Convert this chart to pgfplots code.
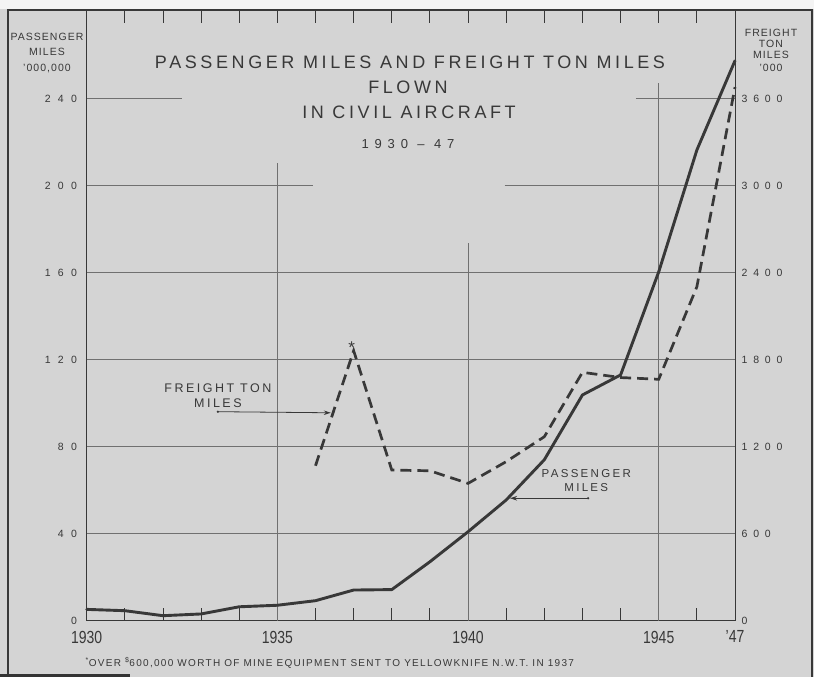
\documentclass[border=0pt]{standalone}
\usepackage{fontspec}
\usepackage{graphicx}
\usepackage{pgfplots}
\pgfplotsset{compat=1.18}
\usetikzlibrary{arrows.meta}
\setmainfont{Liberation Sans}
\newfontfamily\lett[LetterSpace=20]{Liberation Sans}
\newfontfamily\letf[LetterSpace=13]{Liberation Sans}
\newfontfamily\letts[LetterSpace=10]{Liberation Sans}
\newfontfamily\tickL[LetterSpace=70]{Liberation Sans}
\newfontfamily\tickR[LetterSpace=55]{Liberation Sans}
\newfontfamily\datef[LetterSpace=45]{Liberation Sans}
\definecolor{bg}{HTML}{D4D4D4}
\definecolor{ink}{HTML}{383838}
\definecolor{gridc}{HTML}{707070}

\pgfplotstableread{
year pass
1930 5.2
1931 4.6
1932 2.3
1933 3.1
1934 6.4
1935 7.1
1936 9.2
1937 14.1
1938 14.3
1939 27.1
1940 40.9
1941 55.5
1942 74.0
1943 103.8
1944 113.0
1945 160.4
1946 216.4
1947 257.5
}\passdata

\pgfplotstableread{
year freight
1936 1069
1937 1862
1938 1039
1939 1034
1940 947
1941 1097
1942 1269
1943 1713
1944 1677
1945 1665
1946 2303
1947 3680
}\freightdata

\begin{document}
\begin{tikzpicture}[x=1pt,y=1pt]
\fill[bg] (0,0) rectangle (814,677);
\fill[white!75!bg] (0,668) rectangle (814,677);
\useasboundingbox (0,0) rectangle (814,677);

% titles
\node[text=ink, font=\lett\fontsize{18}{20}\selectfont] at (410,{677-62}) {PASSENGER MILES AND FREIGHT TON MILES};
\node[text=ink, font=\lett\fontsize{18}{20}\selectfont] at (408,{677-87}) {FLOWN};
\node[text=ink, font=\lett\fontsize{18}{20}\selectfont] at (409,{677-112}) {IN CIVIL AIRCRAFT};
\node[text=ink, font=\datef\fontsize{13}{15}\selectfont] at (408,{677-144}) {1930 \textendash{} 47};

% left axis title
\node[text=ink, font=\letts\fontsize{10.5}{12}\selectfont] at (47,{677-37}) {PASSENGER};
\node[text=ink, font=\letts\fontsize{10.5}{12}\selectfont] at (47,{677-52}) {MILES};
\node[text=ink, font=\letts\fontsize{10.5}{12}\selectfont] at (47,{677-69}) {\textquoteright000,000};
% right axis title
\node[text=ink, font=\letts\fontsize{10.5}{12}\selectfont] at (771,{677-33}) {FREIGHT};
\node[text=ink, font=\letts\fontsize{10.5}{12}\selectfont] at (771,{677-44}) {TON};
\node[text=ink, font=\letts\fontsize{10.5}{12}\selectfont] at (771,{677-55}) {MILES};
\node[text=ink, font=\letts\fontsize{10.5}{12}\selectfont] at (771,{677-68}) {\textquoteright000};

% footnote
\node[text=ink, anchor=west, font=\letf\fontsize{10}{12}\selectfont] at (82,{677-663}) {\textsuperscript{*}OVER \textsuperscript{\$}600,000 WORTH OF MINE EQUIPMENT SENT TO YELLOWKNIFE N.W.T. IN 1937};

\begin{axis}[
  at={(86.7pt,56.3pt)}, anchor=south west,
  scale only axis, width=648.3pt, height=610.7pt,
  xmin=1930, xmax=1947, ymin=0, ymax=280.8,
  clip=false,
  axis line style={draw=ink, line width=1pt},
  xtick={1930,1935,1940,1945,1947},
  xticklabels={\scalebox{0.8}[1]{1930},\scalebox{0.8}[1]{1935},\scalebox{0.8}[1]{1940},\scalebox{0.8}[1]{1945},\scalebox{0.8}[1]{\textquoteright47}},
  minor xtick={1930,...,1947},
  tick align=inside,
  major tick length=13pt, minor tick length=13pt,
  xtick style={draw=ink, line width=0.8pt},
  minor x tick style={draw=ink, line width=0.8pt},
  ytick={0,40,80,120,160,200,240},
  yticklabels={0,40,80,120,160,200,240},
  ytick style={draw=none},
  yticklabel style={font=\tickL\fontsize{10.5}{12}\selectfont, text=ink, inner sep=0pt, xshift=-9.5pt},
  xticklabel style={font=\fontsize{17.5}{20}\selectfont, text=ink, inner sep=0pt, yshift=-10pt},
]
% grid
\pgfplotsinvokeforeach{40,80,120,160}{
  \draw[gridc, line width=0.8pt] (axis cs:1930,#1) -- (axis cs:1947,#1);
}
\draw[gridc, line width=0.8pt] (axis cs:1930,200) -- (axis cs:1935.93,200);
\draw[gridc, line width=0.8pt] (axis cs:1940.96,200) -- (axis cs:1947,200);
\draw[gridc, line width=0.8pt] (axis cs:1930,240) -- (axis cs:1932.5,240);
\draw[gridc, line width=0.8pt] (axis cs:1944.4,240) -- (axis cs:1947,240);
\draw[gridc, line width=0.8pt] (axis cs:1935,0) -- (axis cs:1935,210.4);
\draw[gridc, line width=0.8pt] (axis cs:1940,0) -- (axis cs:1940,173.7);
\draw[gridc, line width=0.8pt] (axis cs:1945,0) -- (axis cs:1945,247.2);

\addplot[ink, line width=2.9pt, line join=round, line cap=round] table[x=year, y=pass] {\passdata};

% annotations
\node[text=ink, font=\lett\fontsize{12.5}{14}\selectfont] at (axis cs:1933.44,106.8) {FREIGHT TON};
\node[text=ink, font=\lett\fontsize{12.5}{14}\selectfont] at (axis cs:1933.44,100.1) {MILES};
\fill[ink] (axis cs:1933.44,96.1) circle (1.3pt);
\draw[ink, line width=0.8pt, -{Stealth[length=7pt,width=4.5pt]}] (axis cs:1933.44,96.1) -- (axis cs:1936.4,95.6);

\node[text=ink, font=\lett\fontsize{11.5}{14}\selectfont] at (axis cs:1943.1,67.5) {PASSENGER};
\node[text=ink, font=\lett\fontsize{11.5}{14}\selectfont] at (axis cs:1943.1,61.1) {MILES};
\fill[ink] (axis cs:1943.15,56.3) circle (1.3pt);
\draw[ink, line width=0.8pt, -{Stealth[length=7pt,width=4.5pt]}] (axis cs:1943.15,56.3) -- (axis cs:1941.1,56.3);

\node[text=ink, font=\fontsize{17}{18}\selectfont] at (axis cs:1936.95,125.5) {*};
\end{axis}

\begin{axis}[
  at={(86.7pt,56.3pt)}, anchor=south west,
  scale only axis, width=648.3pt, height=610.7pt,
  xmin=1930, xmax=1947, ymin=0, ymax=4212,
  clip=false,
  axis x line=none, axis y line*=right,
  axis line style={draw=ink, line width=1pt},
  ytick={0,600,1200,1800,2400,3000,3600},
  yticklabels={0,600,1200,1800,2400,3000,3600},
  ytick style={draw=none},
  yticklabel style={font=\tickR\fontsize{10.5}{12}\selectfont, text=ink, inner sep=0pt, xshift=6.5pt},
]
\addplot[ink, line width=2.7pt, dash pattern=on 11pt off 6pt] table[x=year, y=freight] {\freightdata};
\end{axis}

% frame
\draw[ink, line width=1.4pt] (8,0) -- (8,667) -- (812,667) -- (812,0);
\draw[black!80, line width=3pt] (0,1.5) -- (130,1.5);
\end{tikzpicture}
\end{document}
